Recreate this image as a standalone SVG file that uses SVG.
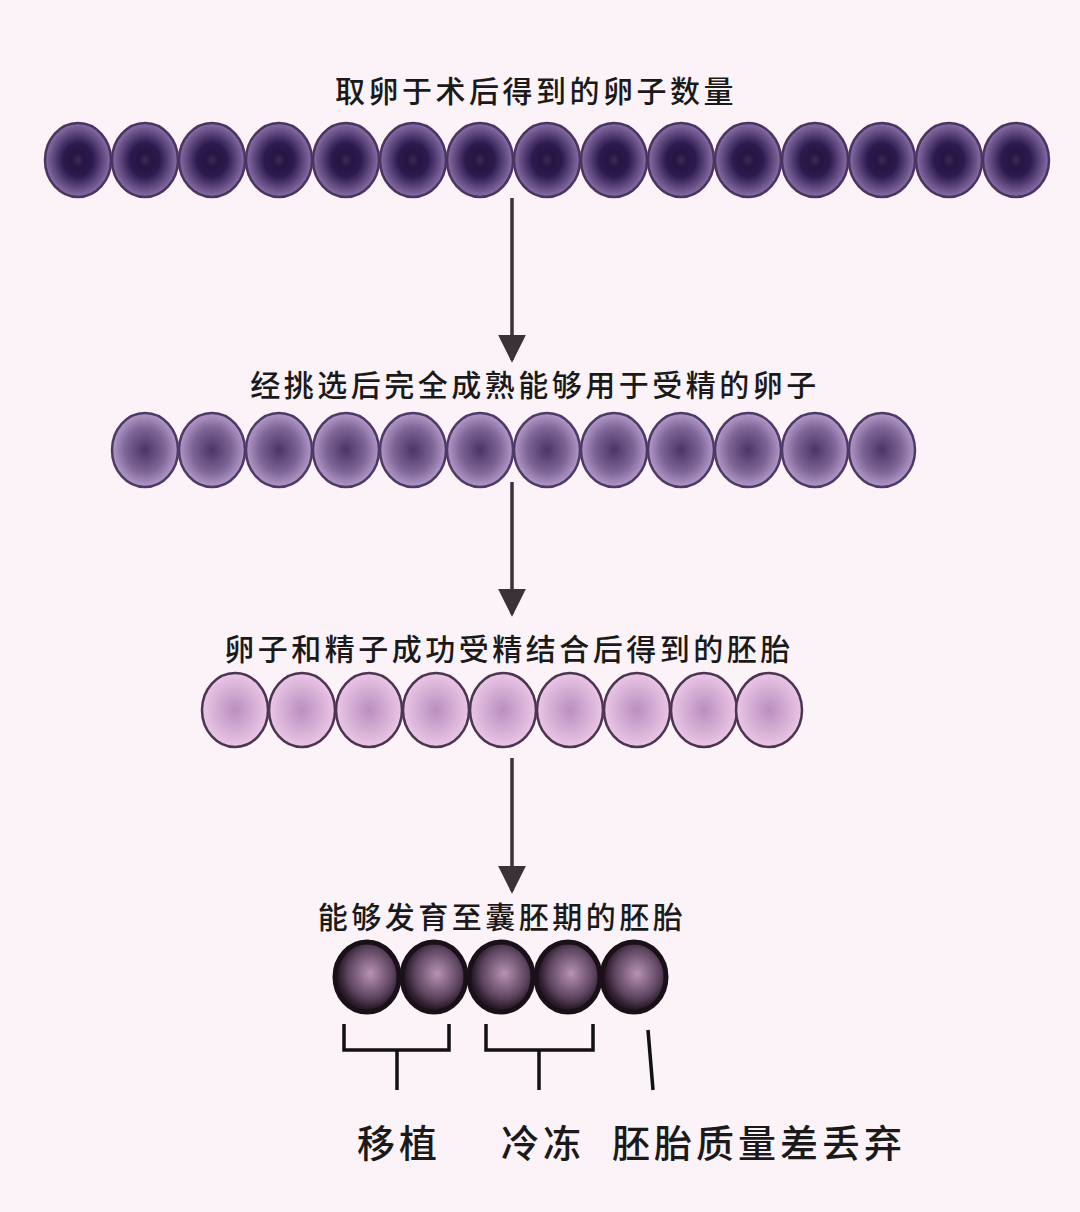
<svg xmlns="http://www.w3.org/2000/svg" width="1080" height="1212" viewBox="0 0 1080 1212">
<defs>
<radialGradient id="g1"><stop offset="0" stop-color="#3a2a55"/><stop offset="0.2" stop-color="#261543"/><stop offset="0.45" stop-color="#2c1a4e"/><stop offset="1" stop-color="#8a70a8"/></radialGradient>
<radialGradient id="g2"><stop offset="0" stop-color="#4a3466"/><stop offset="0.6" stop-color="#7d6597"/><stop offset="1" stop-color="#b49ac9"/></radialGradient>
<radialGradient id="g3"><stop offset="0" stop-color="#b98fbf"/><stop offset="1" stop-color="#ebc6e6"/></radialGradient>
<radialGradient id="g4" cx="0.55" cy="0.45"><stop offset="0" stop-color="#b993b4"/><stop offset="0.7" stop-color="#5e4560"/><stop offset="1" stop-color="#2a1a2a"/></radialGradient>
<marker id="ah" viewBox="0 0 10 10" refX="9" refY="5" markerWidth="28" markerHeight="28" markerUnits="userSpaceOnUse" orient="auto"><path d="M0,0 L10,5 L0,10z" fill="#3a3238"/></marker>
</defs>
<style>
text{font-family:"Noto Sans CJK SC",sans-serif;fill:#1a1a1a;text-anchor:middle;font-weight:500}
.t{font-size:30px;letter-spacing:3.5px}
.l{font-size:38px;letter-spacing:4px}
.c1{fill:url(#g1);stroke:#4a3560;stroke-width:2.5}
.c2{fill:url(#g2);stroke:#4e3a66;stroke-width:2.5}
.c3{fill:url(#g3);stroke:#4b3550;stroke-width:2.5}
.c4{fill:url(#g4);stroke:#1a1018;stroke-width:5}
.ar{stroke:#3a3238;stroke-width:3.5;fill:none}
.br{stroke:#111;stroke-width:3.5;fill:none}
</style>
<rect width="1080" height="1212" fill="#fbf3f8"/>
<g id="row1">
<text class="t" x="536" y="102">取卵于术后得到的卵子数量</text>
<g class="c1">
<ellipse cx="78" cy="160" rx="33" ry="37"/><ellipse cx="145" cy="160" rx="33" ry="37"/><ellipse cx="212" cy="160" rx="33" ry="37"/><ellipse cx="279" cy="160" rx="33" ry="37"/><ellipse cx="346" cy="160" rx="33" ry="37"/><ellipse cx="413" cy="160" rx="33" ry="37"/><ellipse cx="480" cy="160" rx="33" ry="37"/><ellipse cx="547" cy="160" rx="33" ry="37"/><ellipse cx="614" cy="160" rx="33" ry="37"/><ellipse cx="681" cy="160" rx="33" ry="37"/><ellipse cx="748" cy="160" rx="33" ry="37"/><ellipse cx="815" cy="160" rx="33" ry="37"/><ellipse cx="882" cy="160" rx="33" ry="37"/><ellipse cx="949" cy="160" rx="33" ry="37"/><ellipse cx="1016" cy="160" rx="33" ry="37"/>
</g></g>
<g id="row2">
<text class="t" x="535" y="396">经挑选后完全成熟能够用于受精的卵子</text>
<g class="c2">
<ellipse cx="145" cy="450" rx="33" ry="37"/><ellipse cx="212" cy="450" rx="33" ry="37"/><ellipse cx="279" cy="450" rx="33" ry="37"/><ellipse cx="346" cy="450" rx="33" ry="37"/><ellipse cx="413" cy="450" rx="33" ry="37"/><ellipse cx="480" cy="450" rx="33" ry="37"/><ellipse cx="547" cy="450" rx="33" ry="37"/><ellipse cx="614" cy="450" rx="33" ry="37"/><ellipse cx="681" cy="450" rx="33" ry="37"/><ellipse cx="748" cy="450" rx="33" ry="37"/><ellipse cx="815" cy="450" rx="33" ry="37"/><ellipse cx="882" cy="450" rx="33" ry="37"/>
</g></g>
<g id="row3">
<text class="t" x="509" y="660">卵子和精子成功受精结合后得到的胚胎</text>
<g class="c3">
<ellipse cx="235" cy="710" rx="33" ry="37"/><ellipse cx="302" cy="710" rx="33" ry="37"/><ellipse cx="369" cy="710" rx="33" ry="37"/><ellipse cx="436" cy="710" rx="33" ry="37"/><ellipse cx="503" cy="710" rx="33" ry="37"/><ellipse cx="570" cy="710" rx="33" ry="37"/><ellipse cx="637" cy="710" rx="33" ry="37"/><ellipse cx="704" cy="710" rx="33" ry="37"/><ellipse cx="769" cy="710" rx="33" ry="37"/>
</g></g>
<g id="row4">
<text class="t" x="502" y="928">能够发育至囊胚期的胚胎</text>
<g class="c4">
<ellipse cx="367" cy="977" rx="32" ry="35"/><ellipse cx="434" cy="977" rx="32" ry="35"/><ellipse cx="501" cy="977" rx="32" ry="35"/><ellipse cx="568" cy="977" rx="32" ry="35"/><ellipse cx="634" cy="977" rx="32" ry="35"/>
</g></g>
<g id="labels">
<text class="l" x="399" y="1157">移植</text>
<text class="l" x="543" y="1157">冷冻</text>
<text class="l" x="759" y="1157">胚胎质量差丢弃</text>
</g>
<g id="connectors">
<line class="ar" x1="512" y1="198" x2="512" y2="360" marker-end="url(#ah)"/>
<line class="ar" x1="512" y1="482" x2="512" y2="614" marker-end="url(#ah)"/>
<line class="ar" x1="512" y1="758" x2="512" y2="891" marker-end="url(#ah)"/>
<path class="br" d="M344,1024 V1050 H449 V1024 M397,1050 V1090"/>
<path class="br" d="M486,1024 V1050 H593 V1024 M539,1050 V1090"/>
<path class="br" d="M648,1030 L653,1090"/>
</g>
</svg>
